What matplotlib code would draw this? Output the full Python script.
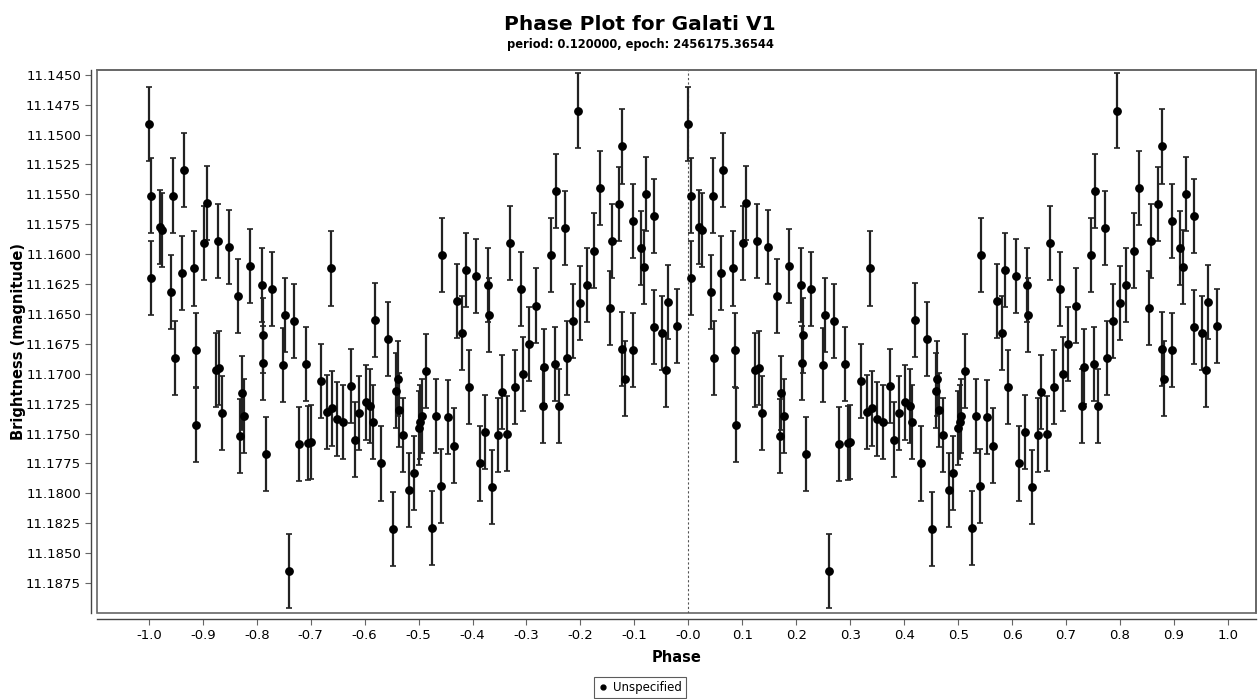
import matplotlib
matplotlib.use('Agg')
import matplotlib.pyplot as plt
import numpy as np

# Фазы и блеск (левая половина, от -1 до 0), правая половина = фаза + 1
phase = [-1.000, -0.995, -0.995, -0.980, -0.975, -0.958, -0.955, -0.952, -0.939, -0.935,
         -0.917, -0.913, -0.912, -0.898, -0.893, -0.876, -0.870, -0.872, -0.864, -0.852,
         -0.835, -0.831, -0.828, -0.823, -0.813, -0.791, -0.789, -0.788, -0.782, -0.772,
         -0.751, -0.747, -0.740, -0.731, -0.721, -0.709, -0.705, -0.700, -0.680, -0.669,
         -0.663, -0.660, -0.651, -0.640, -0.626, -0.618, -0.610, -0.598, -0.590, -0.585,
         -0.580, -0.569, -0.557, -0.548, -0.541, -0.539, -0.536, -0.528, -0.517, -0.509,
         -0.500, -0.497, -0.494, -0.487, -0.475, -0.467, -0.459, -0.457, -0.446, -0.435,
         -0.428, -0.419, -0.413, -0.407, -0.393, -0.387, -0.376, -0.372, -0.370, -0.364,
         -0.352, -0.346, -0.336, -0.330, -0.322, -0.311, -0.306, -0.296, -0.282, -0.270,
         -0.267, -0.254, -0.248, -0.246, -0.240, -0.228, -0.225, -0.213, -0.205, -0.200,
         -0.188, -0.174, -0.164, -0.146, -0.142, -0.129, -0.123, -0.123, -0.118, -0.103,
         -0.103, -0.088, -0.083, -0.078, -0.063, -0.063, -0.048, -0.041, -0.037, -0.021]
mag = [11.1491, 11.1551, 11.1620, 11.1577, 11.1580, 11.1632, 11.1551, 11.1687, 11.1616, 11.1530,
       11.1612, 11.1680, 11.1743, 11.1591, 11.1557, 11.1697, 11.1695, 11.1589, 11.1733, 11.1594,
       11.1635, 11.1752, 11.1716, 11.1735, 11.1610, 11.1626, 11.1691, 11.1668, 11.1767, 11.1629,
       11.1693, 11.1651, 11.1865, 11.1656, 11.1759, 11.1692, 11.1758, 11.1757, 11.1706, 11.1732,
       11.1612, 11.1729, 11.1738, 11.1740, 11.1710, 11.1755, 11.1733, 11.1724, 11.1727, 11.1740,
       11.1655, 11.1775, 11.1671, 11.1830, 11.1714, 11.1704, 11.1730, 11.1751, 11.1797, 11.1783,
       11.1745, 11.1740, 11.1735, 11.1698, 11.1829, 11.1735, 11.1794, 11.1601, 11.1736, 11.1760,
       11.1639, 11.1666, 11.1613, 11.1711, 11.1618, 11.1775, 11.1749, 11.1626, 11.1651, 11.1795,
       11.1751, 11.1715, 11.1750, 11.1591, 11.1711, 11.1629, 11.1700, 11.1675, 11.1643, 11.1727,
       11.1694, 11.1601, 11.1692, 11.1547, 11.1727, 11.1578, 11.1687, 11.1656, 11.1480, 11.1641,
       11.1626, 11.1597, 11.1545, 11.1645, 11.1589, 11.1558, 11.1510, 11.1679, 11.1704, 11.1572,
       11.1680, 11.1595, 11.1611, 11.1550, 11.1568, 11.1661, 11.1666, 11.1697, 11.1640, 11.1660]
err = 0.0031

x_ticks = np.round(np.arange(-1.0, 1.01, 0.1), 1)
y_ticks = np.arange(11.1450, 11.1876, 0.0025)

all_x = np.concatenate((phase, np.array(phase) + 1))
all_y = np.concatenate((mag, mag))

fig = plt.figure(figsize=(12.58, 6.99), dpi=100)
ax = fig.add_axes([0.0771, 0.123, 0.9213, 0.777])

ax.axvline(0, color='#555555', lw=0.8, ls=(0, (2, 2)), zorder=1)
ax.errorbar(all_x, all_y, yerr=err, fmt='o', color='black', ecolor='#222222',
            markersize=5.3, elinewidth=1.6, capsize=2.5, capthick=1.2, zorder=3,
            label='Unspecified')

ax.set_xlim(-1.096, 1.052)
ax.set_ylim(11.1900, 11.1446)
ax.set_xticks(x_ticks)
ax.set_xticklabels(['%.1f' % t for t in x_ticks])
ax.set_yticks(y_ticks)
ax.set_yticklabels(['%.4f' % t for t in y_ticks])
ax.tick_params(labelsize=9.5, length=4, width=0.8, color='#666666')

# рамка графика + отдельные оси как в JFreeChart
for s in ['top', 'right']:
    ax.spines[s].set_color('#666666')
    ax.spines[s].set_linewidth(1.2)
for s in ['left', 'bottom']:
    ax.spines[s].set_position(('outward', 4))
    ax.spines[s].set_color('#444444')
    ax.spines[s].set_linewidth(1.0)
ax.patch.set_edgecolor('#666666')
ax.patch.set_linewidth(1.2)

ax.set_xlabel('Phase', fontsize=10.5, fontweight='bold', labelpad=6)
ax.set_ylabel('Brightness (magnitude)', fontsize=10.5, fontweight='bold')
ax.yaxis.set_label_coords(-0.061, 0.5)

fig.text(0.5087, 0.965, 'Phase Plot for Galati V1', ha='center', va='center',
         fontsize=14.5, fontweight='bold')
fig.text(0.5087, 0.937, 'period: 0.120000, epoch: 2456175.36544', ha='center', va='center',
         fontsize=8.3, fontweight='bold')

leg = fig.legend(handles=[plt.Line2D([], [], ls='', marker='o', color='black', markersize=3.5)],
                 labels=['Unspecified'], loc='center', bbox_to_anchor=(0.5087, 0.016),
                 fontsize=8.5, frameon=True, fancybox=False, handlelength=0.8,
                 handletextpad=0.4, borderpad=0.35)
leg.get_frame().set_edgecolor('#333333')
leg.get_frame().set_linewidth(0.8)

plt.savefig('out.png', dpi=100)
